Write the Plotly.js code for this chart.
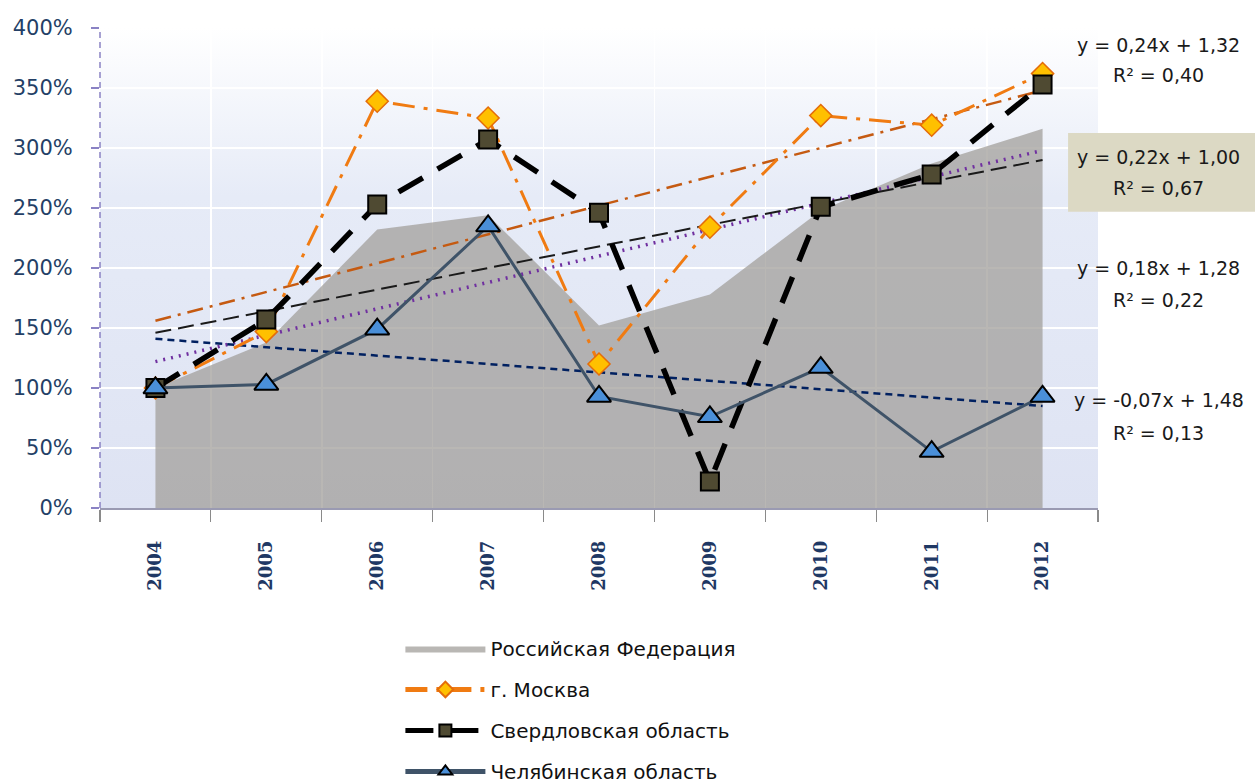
<!DOCTYPE html>
<html>
<head>
<meta charset="utf-8">
<script src="https://cdn.plot.ly/plotly-3.0.1.min.js"></script>
<style>
  html, body { margin: 0; padding: 0; background: #ffffff; }
  #chart { width: 1255px; height: 783px; }
</style>
</head>
<body>
<div id="chart"></div>
<script>
// ---------- data ----------
const years = ['2004', '2005', '2006', '2007', '2008', '2009', '2010', '2011', '2012'];
const russia = [1.00, 1.38, 2.32, 2.44, 1.52, 1.78, 2.48, 2.87, 3.16];
const moscow = [1.00, 1.47, 3.39, 3.25, 1.20, 2.34, 3.27, 3.19, 3.62];
const sverdlovsk = [1.00, 1.57, 2.53, 3.07, 2.46, 0.22, 2.51, 2.78, 3.53];
const chelyabinsk = [1.00, 1.03, 1.49, 2.35, 0.93, 0.76, 1.17, 0.47, 0.93];

const seriesNames = ['Российская Федерация', 'г. Москва', 'Свердловская область', 'Челябинская область'];

// linear trend coefficients shown on the chart: [slope, intercept], x = 1..9
const trendRussia = [0.22, 1.00];
const trendMoscow = [0.24, 1.32];
const trendSverdlovsk = [0.18, 1.28];
const trendChelyabinsk = [-0.07, 1.48];

const eqMoscow = 'y = 0,24x + 1,32', r2Moscow = 'R² = 0,40';
const eqRussia = 'y = 0,22x + 1,00', r2Russia = 'R² = 0,67';
const eqSverdlovsk = 'y = 0,18x + 1,28', r2Sverdlovsk = 'R² = 0,22';
const eqChelyabinsk = 'y = -0,07x + 1,48', r2Chelyabinsk = 'R² = 0,13';

// ---------- helpers ----------
const firstYear = years[0], lastYear = years[years.length - 1];
function trendEnds(c) {
  const n = years.length;
  return [c[0] * 1 + c[1], c[0] * n + c[1]];
}
function trendTrace(c, color, dash, width) {
  return {
    x: [firstYear, lastYear], y: trendEnds(c), type: 'scatter', mode: 'lines',
    line: { color: color, dash: dash, width: width }, showlegend: false, hoverinfo: 'skip'
  };
}

const traces = [
  {
    x: years, y: russia, name: seriesNames[0], type: 'scatter', mode: 'lines',
    fill: 'tozeroy', fillcolor: 'rgba(163,161,156,0.76)', line: { width: 0, color: 'rgba(0,0,0,0)' },
    legendgroup: 'a'
  },
  trendTrace(trendRussia, '#7030a0', '2px,6px', 3.5),
  trendTrace(trendMoscow, '#c55a11', '16px,7px,3px,7px', 2.5),
  trendTrace(trendSverdlovsk, '#1a1a1a', '16px,7px', 2),
  trendTrace(trendChelyabinsk, '#002060', '7px,5px', 2.5),
  {
    x: years, y: moscow, name: seriesNames[1], type: 'scatter', mode: 'lines+markers',
    line: { color: '#f07b12', width: 3, dash: '22px,9px,4px,9px' },
    marker: { symbol: 'diamond', size: 17, color: '#ffc000', line: { color: '#e46c0a', width: 1.5 } },
    legendgroup: 'b'
  },
  {
    x: years, y: sverdlovsk, name: seriesNames[2], type: 'scatter', mode: 'lines+markers',
    line: { color: '#000000', width: 5.5, dash: '28px,17px' },
    marker: { symbol: 'square', size: 18, color: '#4f4a32', line: { color: '#000000', width: 2 } },
    legendgroup: 'c'
  },
  {
    x: years, y: chelyabinsk, name: seriesNames[3], type: 'scatter', mode: 'lines+markers',
    line: { color: '#3f5368', width: 3 },
    marker: { symbol: 'triangle-up', size: 21, color: '#4a8fd8', line: { color: '#000000', width: 2 } },
    legendgroup: 'd'
  }
];

const gradSvg = '<svg xmlns="http://www.w3.org/2000/svg" width="100" height="100" preserveAspectRatio="none">' +
  '<defs><linearGradient id="g" x1="0" y1="0" x2="0" y2="1">' +
  '<stop offset="0" stop-color="#ffffff"/><stop offset="0.35" stop-color="#e6ebf7"/>' +
  '<stop offset="1" stop-color="#dee3f3"/></linearGradient></defs>' +
  '<rect width="100" height="100" fill="url(#g)"/></svg>';
const gradUri = 'data:image/svg+xml;base64,' + btoa(gradSvg);

const annFont = { family: 'DejaVu Sans', size: 19, color: '#1a1a1a' };
function ann(text, y) {
  return {
    text: text, xref: 'paper', yref: 'paper', x: 1.061, y: y, xanchor: 'center', yanchor: 'middle',
    showarrow: false, font: annFont, align: 'center'
  };
}

const layout = {
  width: 1255, height: 783,
  margin: { l: 100, r: 157, t: 28, b: 275, autoexpand: false },
  paper_bgcolor: '#ffffff',
  plot_bgcolor: 'rgba(0,0,0,0)',
  showlegend: true,
  legend: {
    x: 0.301, y: -0.252, xanchor: 'left', yanchor: 'top',
    orientation: 'v', traceorder: 'grouped', tracegroupgap: 12,
    itemwidth: 80, itemsizing: 'constant',
    font: { family: 'DejaVu Sans', size: 20, color: '#111111' },
    bgcolor: 'rgba(0,0,0,0)'
  },
  xaxis: {
    type: 'category', range: [-0.5, 8.5], tickson: 'boundaries',
    showgrid: true, gridcolor: '#ffffff', gridwidth: 1.5,
    showline: true, linecolor: '#9a9ab2', linewidth: 1.5,
    ticks: 'outside', ticklen: 12, tickcolor: '#8a8a8a', tickwidth: 1.2,
    tickangle: -90, ticklabelstandoff: 24,
    tickfont: { family: 'DejaVu Serif', size: 18, color: '#1f3864', weight: 'bold' },
    fixedrange: true
  },
  yaxis: {
    range: [0, 4], dtick: 0.5, tick0: 0, tickformat: '.0%',
    showgrid: true, gridcolor: '#ffffff', gridwidth: 1.5, zeroline: false,
    showline: false,
    ticks: 'outside', ticklen: 8, tickcolor: '#8a82c4', tickwidth: 1.5,
    tickfont: { family: 'DejaVu Sans', size: 21, color: '#243f66' },
    ticklabelstandoff: 14,
    fixedrange: true
  },
  images: [{
    source: gradUri, xref: 'paper', yref: 'paper', x: 0, y: 1, sizex: 1, sizey: 1,
    xanchor: 'left', yanchor: 'top', sizing: 'stretch', layer: 'below'
  }],
  shapes: [
    {
      type: 'line', xref: 'paper', yref: 'paper', x0: 0, x1: 0, y0: 0, y1: 1,
      line: { color: '#8a82c4', width: 1.5, dash: '6px,4px' }
    },
    {
      type: 'rect', xref: 'paper', yref: 'paper', x0: 0.970, x1: 1.16, y0: 0.617, y1: 0.781,
      fillcolor: '#dcd9c4', line: { width: 0 }, layer: 'above'
    }
  ],
  annotations: [
    ann(eqMoscow, 0.965), ann(r2Moscow, 0.902),
    ann(eqRussia, 0.731), ann(r2Russia, 0.667),
    ann(eqSverdlovsk, 0.500), ann(r2Sverdlovsk, 0.433),
    ann(eqChelyabinsk, 0.225), ann(r2Chelyabinsk, 0.157)
  ]
};

Plotly.newPlot('chart', traces, layout, { displayModeBar: false, staticPlot: true });
</script>
</body>
</html>
